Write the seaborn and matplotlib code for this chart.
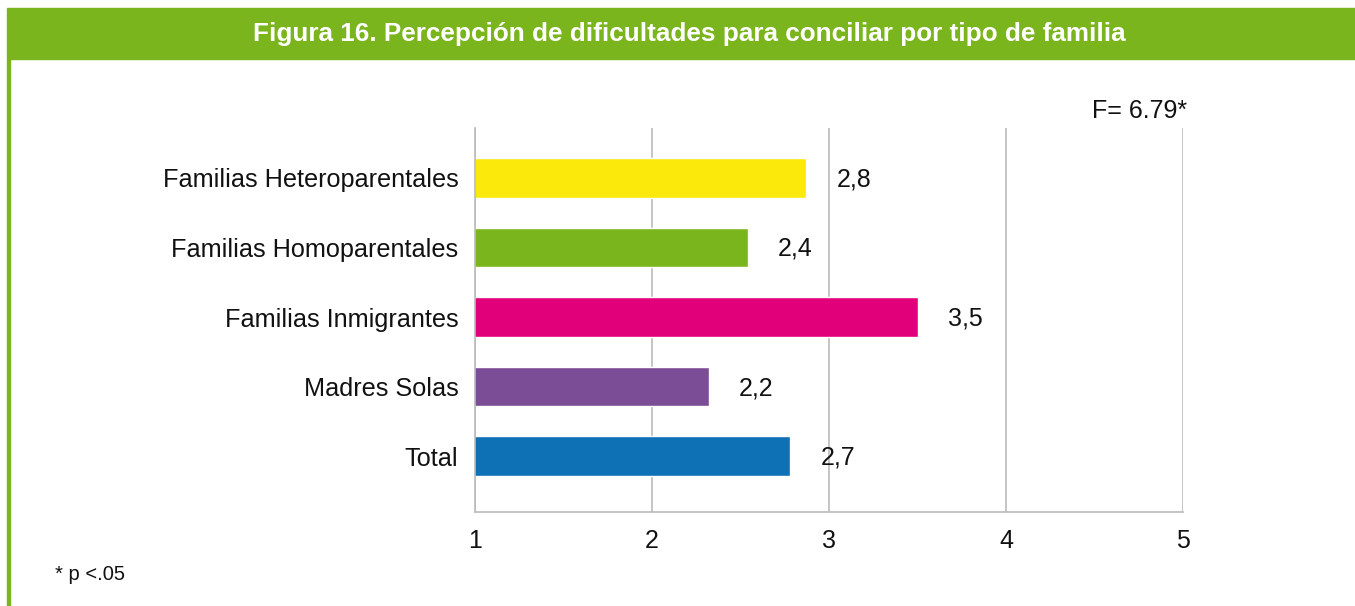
import matplotlib
matplotlib.use('Agg')
import matplotlib.pyplot as plt
import seaborn as sns
import pandas as pd
from matplotlib.patches import Rectangle

categorias = ["Familias Heteroparentales", "Familias Homoparentales",
              "Familias Inmigrantes", "Madres Solas", "Total"]
valores = [2.87, 2.54, 3.5, 2.32, 2.78]
etiquetas = ["2,8", "2,4", "3,5", "2,2", "2,7"]
colores = ["#FBE90C", "#7AB51D", "#E2007A", "#7B4D96", "#0F71B5"]
ticks_x = [1, 2, 3, 4, 5]

titulo = "Figura 16. Percepción de dificultades para conciliar por tipo de familia"
nota_f = "F= 6.79*"
nota_p = "* p <.05"

df = pd.DataFrame({"tipo": categorias, "valor": valores})

sns.set_style("white")
plt.rcParams['font.family'] = ['Liberation Sans', 'DejaVu Sans']

verde = "#7AB51D"
gris = "#BBBBBB"
W, H = 1355, 606

fig = plt.figure(figsize=(W / 100, H / 100), dpi=100)
ax = fig.add_axes([475 / W, 1 - 512 / H, (1183 - 475) / W, (512 - 128) / H])

sns.barplot(data=df, x="valor", y="tipo", hue="tipo", palette=colores,
            legend=False, width=0.57, saturation=1, errorbar=None, ax=ax)

ax.set_xlim(1, 5)
ax.set_ylim(4.8, -0.714)
ax.set_xticks(ticks_x)
ax.set_xticklabels([str(t) for t in ticks_x])
ax.grid(axis='x', color=gris, lw=1.2)
ax.grid(axis='y', visible=False)
ax.set_axisbelow(True)
for s in ["top", "right"]:
    ax.spines[s].set_visible(False)
for s in ["left", "bottom"]:
    ax.spines[s].set_color(gris)
    ax.spines[s].set_linewidth(1.2)
ax.tick_params(axis='y', length=0, labelsize=18.2, pad=12, labelcolor='#111111')
ax.tick_params(axis='x', length=0, labelsize=18, pad=12, labelcolor='#111111')
ax.set_xlabel("")
ax.set_ylabel("")

for i, (v, t) in enumerate(zip(valores, etiquetas)):
    ax.annotate(t, (v, i), xytext=(22, -1), textcoords='offset points',
                va='center', ha='left', fontsize=18, color='#111111')

# cabecera verde y linea lateral
fig.patches.append(Rectangle((7 / W, 1 - 59 / H), 1, 51 / H,
                             transform=fig.transFigure, color=verde, zorder=0))
fig.patches.append(Rectangle((7 / W, 0), 3 / W, 1 - 59 / H,
                             transform=fig.transFigure, color=verde, zorder=0))
fig.text(689 / W, 1 - 34 / H, titulo, color='white', fontweight='bold',
         fontsize=18.8, ha='center', va='center')

fig.text(1187 / W, 1 - 111 / H, nota_f, ha='right', va='center',
         fontsize=18, color='#111111')
fig.text(55 / W, 1 - 575 / H, nota_p, ha='left', va='center',
         fontsize=14.5, color='#111111')

fig.savefig("out.png", dpi=100)
